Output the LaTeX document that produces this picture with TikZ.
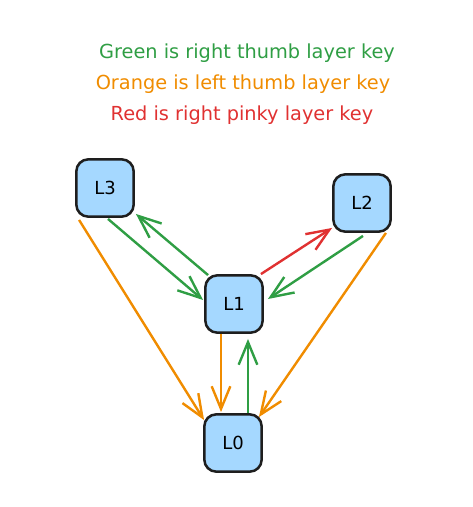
\documentclass[tikz,border=0pt]{standalone}
\usepackage{fontspec}
\setmainfont{DejaVu Sans}
\usetikzlibrary{arrows.meta,calc}
\definecolor{gr}{RGB}{47,158,68}
\definecolor{og}{RGB}{240,140,0}
\definecolor{rd}{RGB}{224,49,49}
\definecolor{bx}{RGB}{165,216,255}
\definecolor{ink}{RGB}{30,30,30}
\tikzset{
  layerbox/.style={draw=ink, fill=bx, line width=1.9pt, rounded corners=9pt,
    minimum width=43pt, minimum height=43pt, inner sep=0pt, font=\fontsize{13.5}{16}\selectfont},
  conn/.style={line width=1.8pt, -{Straight Barb[length=17pt,width=14pt,line width=1.8pt]}},
  legend/.style={font=\fontsize{14.5}{17}\selectfont, anchor=center}
}
\begin{document}
\begin{tikzpicture}[x=0.75pt,y=-0.75pt]
\useasboundingbox (0,0) rectangle (473,507);
\node[legend, text=gr] (tg) at (247,53) {Green is right thumb layer key};
\node[legend, text=og] (to) at (243,84) {Orange is left thumb layer key};
\node[legend, text=rd] (tr) at (242,115) {Red is right pinky layer key};
\node[layerbox] (L3) at (105,188) {L3};
\node[layerbox] (L2) at (362,203) {L2};
\node[layerbox] (L1) at (234,304) {L1};
\node[layerbox] (L0) at (233,443) {L0};
\draw[conn, gr] ($(L3.south)+(3,1)$) -- ($(L1.west)+(-1,-4)$);
\draw[conn, gr] ($(L1.north west)+(4,1)$) -- ($(L3.south east)+(1,-4)$);
\draw[conn, rd] ($(L1.north east)+(-3,0)$) -- ($(L2.south west)+(0,-5)$);
\draw[conn, gr] ($(L2.south)+(1,3)$) -- ($(L1.east)+(4,-5)$);
\draw[conn, og] ($(L3.south west)+(4,2)$) -- ($(L0.north west)+(1,7)$);
\draw[conn, og] ($(L2.south east)+(-6,0)$) -- ($(L0.north east)+(-4,4)$);
\draw[conn, og] ($(L1.south)+(-13,0)$) -- ($(L0.north)+(-12,-1)$);
\draw[conn, gr] ($(L0.north)+(15,0)$) -- ($(L1.south)+(14,5)$);
\end{tikzpicture}
\end{document}
